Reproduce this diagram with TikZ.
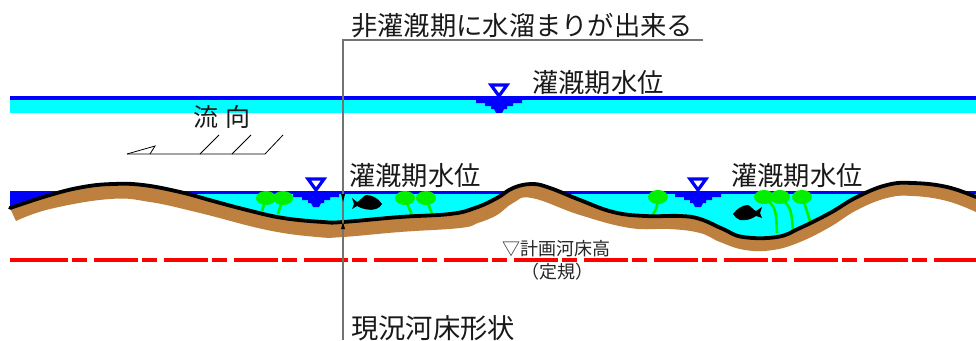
\documentclass[tikz,border=0pt]{standalone}
\usepackage{fontspec}
\setmainfont{Noto Sans CJK JP}
\definecolor{wcyan}{RGB}{0,255,255}
\definecolor{wblue}{RGB}{0,0,255}
\definecolor{soil}{RGB}{189,128,63}
\definecolor{plant}{RGB}{0,240,0}
\newcommand{\topline}{(10,208) (50,195) (83,187) (113,184) (143,185) (180,192) (213,201) (247,210) (283,218) (323,222) (343,222) (400,217) (450,214) (475,208) (497,198) (513,188) (532,184) (550,188) (580,200) (613,212) (645,216) (680,216) (700,219) (723,229) (743,237) (777,237) (800,228) (830,213) (857,197) (887,185) (913,183) (947,187) (976,197)}
\newcommand{\botline}{(976,212) (947,201) (913,196) (887,198) (857,210) (830,227) (800,242) (773,250) (745,250) (720,242) (700,233) (670,229) (630,228) (580,215) (532,198) (513,203) (497,215) (478,223) (460,228) (400,232) (343,237) (317,237) (267,230) (200,213) (150,202) (110,199) (50,209) (16,221)}
\newcommand{\wsym}[2]{%
  \draw[wblue,line width=3.2pt,line join=miter] (#1-8,#2-13) -- (#1+8,#2-13) -- (#1,#2-2) -- cycle;
  \fill[wblue] (#1-23,#2) -- (#1+23,#2) -- (#1+23,#2+5) -- (#1+14,#2+5) -- (#1+14,#2+8) -- (#1+8,#2+8) -- (#1+8,#2+11) -- (#1+5,#2+11) -- (#1+3,#2+15) -- (#1-3,#2+15) -- (#1-5,#2+11) -- (#1-8,#2+11) -- (#1-8,#2+8) -- (#1-14,#2+8) -- (#1-14,#2+5) -- (#1-23,#2+5) -- cycle;}
\newcommand{\plantat}[5]{%
  \draw[plant,line width=2.6pt] (#1,#2) .. controls (#3,#4) .. (#5);
  \fill[plant] (#1,#2) ellipse (10 and 7);}
\tikzset{
  lbl/.style={anchor=west,inner sep=0pt,font=\fontsize{26.3}{26}\selectfont,text=black!90},
  small/.style={inner sep=0pt,font=\fontsize{18}{18}\selectfont,text=black!85},
  leader/.style={draw=black!55,line width=1.4pt},
  flow/.style={draw=black,line width=0.8pt},
}
\begin{document}
\begin{tikzpicture}[x=1pt,y=-1pt]
\useasboundingbox (0,0) rectangle (976,340);
\fill[white] (0,0) rectangle (976,340);
% upper water band
\fill[wcyan] (10,98) rectangle (976,113);
\draw[wblue,line width=4pt] (10,98) -- (976,98);
% lower water
\begin{scope}
  \clip (10,192) rectangle (976,260);
  \fill[wcyan] (10,192) -- plot[smooth,tension=0.7] coordinates {\topline} -- (976,192) -- cycle;
  \fill[wblue] (10,192) -- (10,208) -- (50,195) -- (62,192) -- cycle;
\end{scope}
\draw[wblue,line width=3pt] (10,192) -- (976,192);
% plants
\plantat{266}{198}{264}{205}{262,211}
\plantat{283}{198}{281}{206}{278,214}
\plantat{405}{198}{408}{206}{412,215}
\plantat{426}{198}{429}{206}{432,214}
\plantat{658}{197}{657}{208}{652,216}
\plantat{764}{197}{776}{208}{777,233}
\plantat{780}{197}{791}{208}{793,230}
\plantat{802}{197}{806}{208}{810,221}
% ground
\fill[soil] plot[smooth,tension=0.7] coordinates {\topline} -- plot[smooth,tension=0.7] coordinates {\botline} -- cycle;
\draw[black,line width=3.8pt,line cap=round] plot[smooth,tension=0.7] coordinates {\topline};
% water symbols
\wsym{499}{98}
\wsym{316}{192}
\wsym{698}{192}
% fish
\fill[black] (382,204) .. controls (378,198) and (372,195) .. (366,195) .. controls (362,197) and (360,201) .. (357,202) -- (352,198) -- (354,204) -- (352,209) -- (357,206) .. controls (362,209) and (370,211) .. (376,209) .. controls (379,208) and (381,206) .. (382,204) -- cycle;
\fill[black] (733,214) .. controls (737,209) and (742,205) .. (748,205) .. controls (751,206) and (753,210) .. (756,211) -- (762,207) -- (760,213) -- (762,218) -- (756,216) .. controls (752,219) and (746,221) .. (740,220) .. controls (737,219) and (735,217) .. (733,214) -- cycle;
% planned bed level
\draw[red,line width=3.4pt] (10,260) -- (24,260);
\draw[red,line width=3.4pt,dash pattern=on 44pt off 4pt on 15pt off 7pt] (24,260) -- (976,260);
% leader
\coordinate (ltop) at (703,40);
\coordinate (lcorner) at (343,40);
\coordinate (lbot) at (343,340);
\coordinate (lbed) at (343,222);
\draw[leader] (ltop) -- (lcorner) -- (lbot);
\fill[black] (lbed) -- ++(-2,7) -- ++(4,0) -- cycle;
\fill[black] (343,202) -- ++(-2,-8) -- ++(4,0) -- cycle;
% flow mark
\coordinate (fa) at (127,154);
\coordinate (fb) at (265,154);
\draw[flow] (fa) -- (fb) -- (283,135);
\draw[flow] (fa) -- (155,146) -- (150,154);
\draw[flow] (200,154) -- (219,135);
\draw[flow] (232,154) -- (251,135);
% texts
\node[lbl] (t1) at (351,26) {非灌漑期に水溜まりが出来る};
\node[lbl] (t2) at (532,83) {灌漑期水位};
\node[lbl] (t3) at (349,176) {灌漑期水位};
\node[lbl] (t4) at (731,176) {灌漑期水位};
\node[lbl,font=\fontsize{27.3}{27}\selectfont] (t5) at (351,328) {現況河床形状};
\node[lbl,font=\fontsize{25}{25}\selectfont] (t6) at (193,117) {流\hspace{7pt}向};
\node[small] (t7) at (556,249) {▽計画河床高};
\node[small] (t8) at (557,272) {（定規）};
\end{tikzpicture}
\end{document}
